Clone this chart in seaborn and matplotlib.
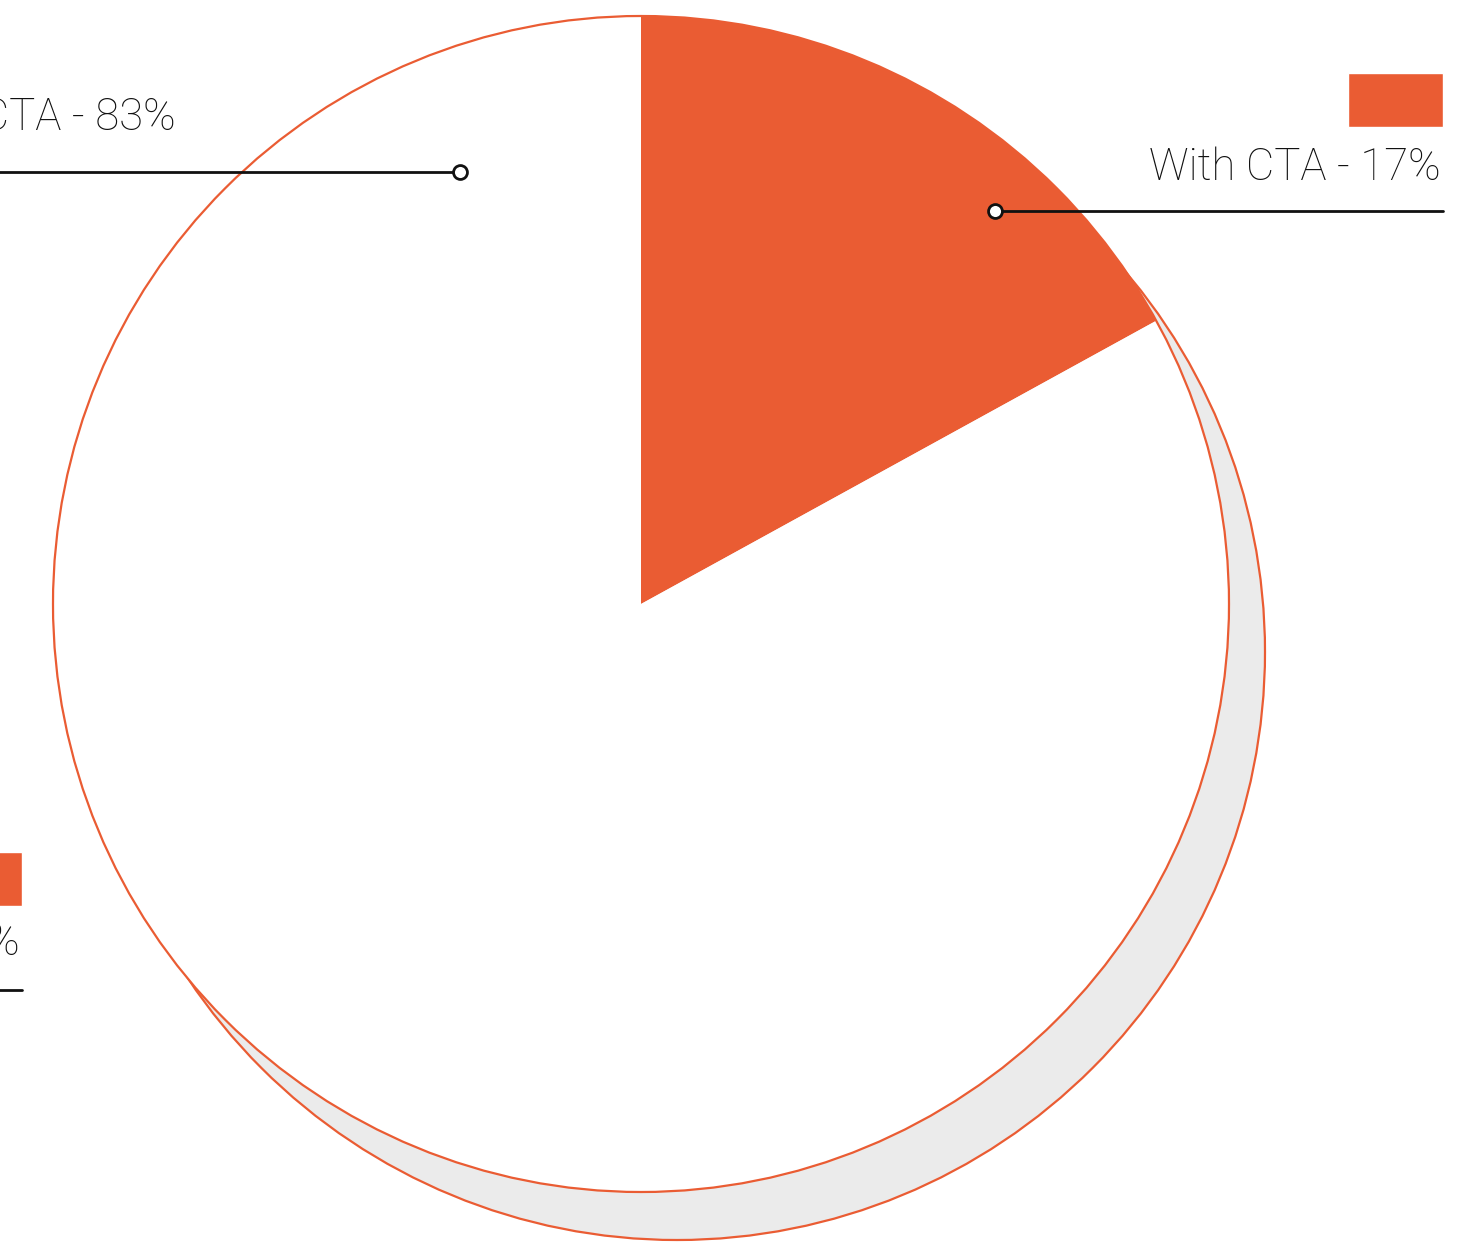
import matplotlib
matplotlib.use("Agg")
import matplotlib.pyplot as plt
from matplotlib.patches import Circle, Rectangle
import seaborn as sns

# Share of posts with / without a call to action
categories = ["With CTA", "Without CTA"]
shares = [17, 83]

sns.set_theme(style="white")
plt.rcParams["font.family"] = ["Roboto", "DejaVu Sans"]

ORANGE = "#EA5C33"
SHADOW = "#EBEBEB"

W, H = 1457, 1242
fig = plt.figure(figsize=(W / 100, H / 100), dpi=100)
ax = fig.add_axes([0, 0, 1, 1])

cx, cy, r = 641, H - 604, 588

# offset disc behind the pie
ax.add_patch(Circle((cx + 36, cy - 48), r, facecolor=SHADOW, edgecolor=ORANGE,
                    linewidth=1.6, zorder=1))

colors = [ORANGE, "white"]
wedges, _ = ax.pie(shares, colors=colors, startangle=90, counterclock=False,
                   center=(cx, cy), radius=r, frame=True,
                   wedgeprops=dict(linewidth=0))
for w in wedges:
    w.set_zorder(2)
ax.set_xlim(0, W)
ax.set_ylim(0, H)
ax.set_aspect("equal")
ax.axis("off")
ax.add_patch(Circle((cx, cy), r, facecolor="none", edgecolor=ORANGE,
                    linewidth=1.6, zorder=3))

txt = dict(fontsize=31.5, fontweight="light", color="#111111", zorder=5)

# With CTA label (right)
ax.add_patch(Rectangle((1348, H - 127), 95, 54, facecolor=ORANGE, zorder=5))
ax.text(1441, H - 180, f"{categories[0]} - {shares[0]}%", ha="right", va="baseline", **txt)
ax.plot([995, 1443], [H - 211, H - 211], color="#111111", lw=2, zorder=5)
ax.plot([995], [H - 211], marker="o", ms=10, mfc="white", mec="#111111", mew=2, zorder=6)

# Without CTA label (upper left)
ax.text(176, H - 130, f"{categories[1]} - {shares[1]}%", ha="right", va="baseline", **txt)
ax.plot([-20, 460], [H - 172, H - 172], color="#111111", lw=2, zorder=5)
ax.plot([460], [H - 172], marker="o", ms=10, mfc="white", mec="#111111", mew=2, zorder=6)

# Without CTA legend entry (lower left)
ax.add_patch(Rectangle((-73, H - 906), 95, 54, facecolor=ORANGE, zorder=5, clip_on=False))
ax.text(20, H - 955, f"{categories[1]} - {shares[1]}%", ha="right", va="baseline", **txt)
ax.plot([-430, 22], [H - 990, H - 990], color="#111111", lw=2, zorder=5)

fig.savefig("out.png", dpi=100)
